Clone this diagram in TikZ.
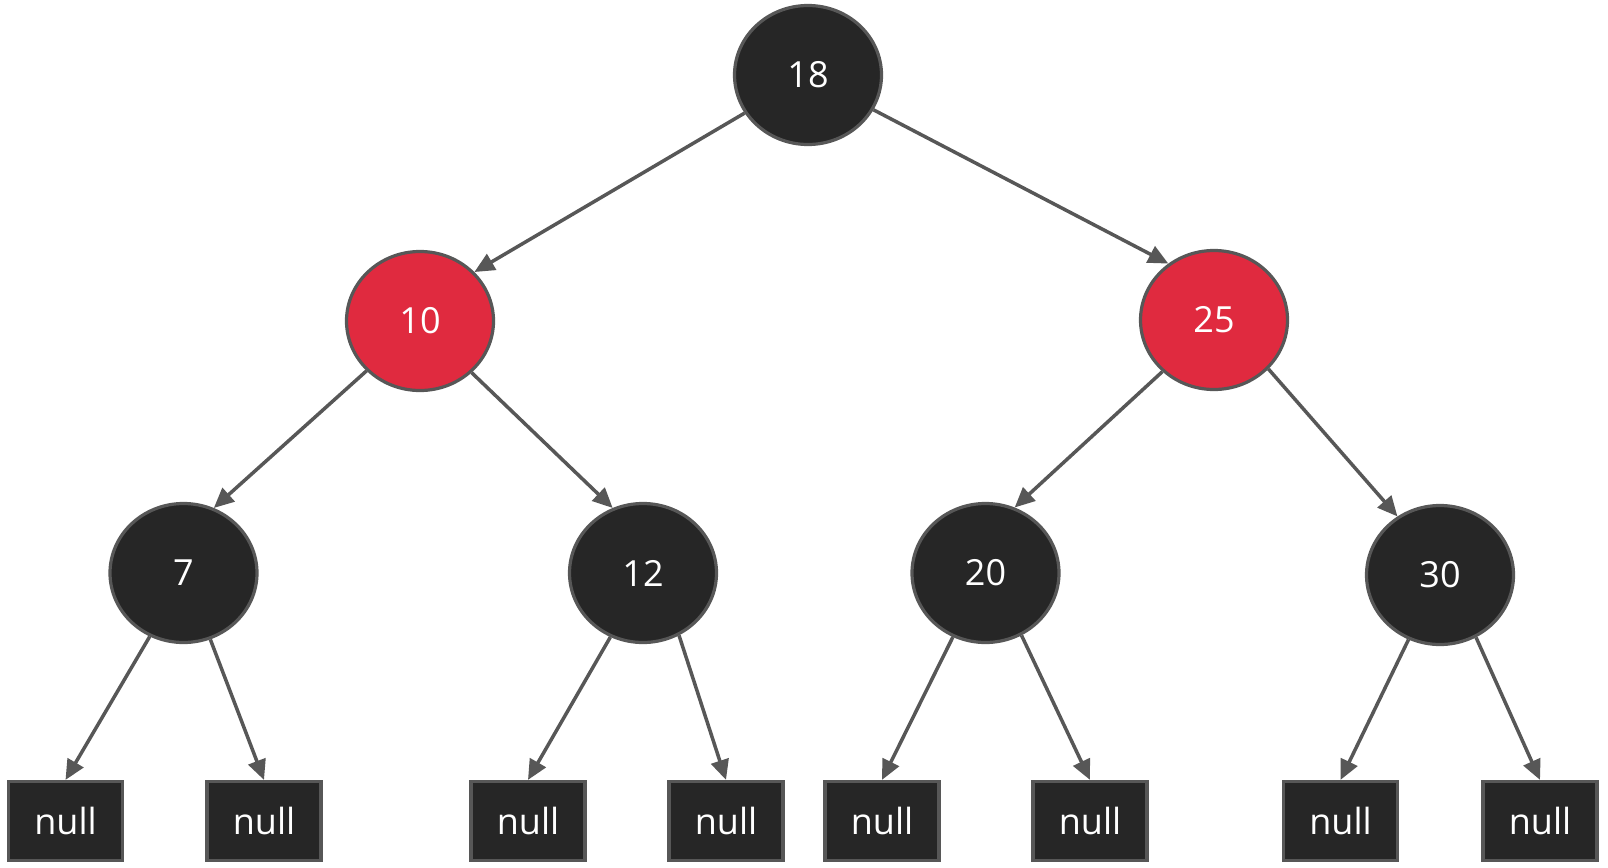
\documentclass[tikz,border=0pt]{standalone}
\usepackage{fontspec}
\setmainfont{Open Sans}
\usetikzlibrary{shapes.geometric,arrows.meta}
\definecolor{nodeblack}{HTML}{262626}
\definecolor{nodered}{HTML}{E02A3F}
\definecolor{edgegray}{HTML}{575757}
\tikzset{
  rbnode/.style={ellipse, draw=edgegray, line width=3.2pt, minimum width=147pt, minimum height=139pt, inner sep=0pt, text=white, font=\fontsize{36}{40}\selectfont},
  blacknode/.style={rbnode, fill=nodeblack},
  rednode/.style={rbnode, fill=nodered},
  nullbox/.style={rectangle, draw=edgegray, fill=nodeblack, line width=3.2pt, minimum width=114pt, minimum height=79pt, inner sep=0pt, text=white, font=\fontsize{36}{40}\selectfont},
  edge/.style={draw=edgegray, line width=3.5pt, -{Triangle[length=20pt,width=18pt]}}
}
\begin{document}
\begin{tikzpicture}[x=1pt,y=-1pt]
\useasboundingbox (0,0) rectangle (1608,867);
\node[blacknode] (n18) at (808,75) {18};
\node[rednode] (n10) at (420,321) {10};
\node[rednode] (n25) at (1214,320) {25};
\node[blacknode] (n7) at (183.5,573) {7};
\node[blacknode] (n12) at (643,573) {12};
\node[blacknode] (n20) at (985.5,573) {20};
\node[blacknode] (n30) at (1440,575) {30};
\node[nullbox] (a1) at (65.5,821) {null};
\node[nullbox] (a2) at (264,821) {null};
\node[nullbox] (a3) at (528,821) {null};
\node[nullbox] (a4) at (726,821) {null};
\node[nullbox] (a5) at (882,821) {null};
\node[nullbox] (a6) at (1090,821) {null};
\node[nullbox] (a7) at (1340.5,821) {null};
\node[nullbox] (a8) at (1540,821) {null};
\path[edge] (n18.211) -- (n10.42);
\path[edge] (n18.332) -- (n25.129);
\path[edge] (n10.223) -- (n7.65);
\path[edge] (n10.315) -- (n12.115);
\path[edge] (n25.225) -- (n20.66);
\path[edge] (n25.318) -- (n30.126);
\path[edge] (n7.242) -- (a1.north);
\path[edge] (n7.292) -- (a2.north);
\path[edge] (n12.243) -- (a3.north);
\path[edge] (n12.300) -- (a4.north);
\path[edge] (n20.243) -- (a5.north);
\path[edge] (n20.300) -- (a6.north);
\path[edge] (n30.244) -- (a7.north);
\path[edge] (n30.300) -- (a8.north);
\end{tikzpicture}
\end{document}
